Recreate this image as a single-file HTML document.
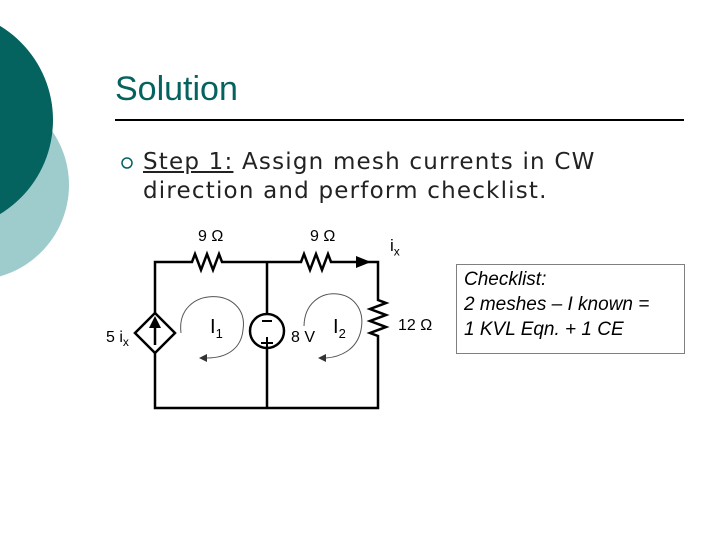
<!DOCTYPE html>
<html><head><style>
body{margin:0;width:720px;height:540px;background:#fff;overflow:hidden;position:relative;font-family:"Liberation Sans",sans-serif}
.t{position:absolute;white-space:nowrap}
</style></head><body>
<svg width="720" height="540" style="position:absolute;left:0;top:0">
<circle cx="-26" cy="185" r="95" fill="#9ecbcc"/>
<circle cx="-57" cy="120" r="110" fill="#04625f"/>
<line x1="115" y1="120" x2="684" y2="120" stroke="#000" stroke-width="2"/>
<circle cx="127" cy="163" r="5" fill="none" stroke="#04625f" stroke-width="1.5"/>
<g stroke="#000" stroke-width="2.5" fill="none">
<path d="M155 333 V262 H192 l3 -8 l6 16 l6 -16 l6 16 l6 -16 l3 8 H301 l3 -8 l6 16 l6 -16 l6 16 l6 -16 l3 8 H378 V300 l8 3 l-16 6 l16 6 l-16 6 l16 6 l-16 6 l8 3 V408 H155 Z"/>
<line x1="267" y1="262" x2="267" y2="408"/>
<polygon points="155,313 175,333 155,353 135,333" fill="#fff"/>
<circle cx="267" cy="331" r="17" fill="#fff"/>
</g>
<line x1="155" y1="345" x2="155" y2="325" stroke="#000" stroke-width="2.5"/>
<polygon points="149,328 161,328 155,316" fill="#000"/>
<polygon points="356,256 371,262 356,268" fill="#000"/>
<g stroke="#555" stroke-width="1" fill="none">
<path d="M181 333 C175 285 250 285 243 330 C241 350 225 358 207 358"/>
<path d="M304 326 C305 280 370 285 361 330 C357 350 340 357 326 358"/>
</g>
<polygon points="207,354 207,362 199,358" fill="#333"/>
<polygon points="326,354 326,362 318,358" fill="#333"/>
<line x1="262" y1="321" x2="272" y2="321" stroke="#000" stroke-width="2"/>
<line x1="261" y1="343" x2="273" y2="343" stroke="#000" stroke-width="2"/>
<line x1="267" y1="337" x2="267" y2="349" stroke="#000" stroke-width="2"/>
<rect x="456.5" y="264.5" width="228" height="89" fill="none" stroke="#000" stroke-dasharray="1,1"/>
</svg>
<div class="t" style="left:115px;top:70px;font-size:34px;color:#04625f">Solution</div>
<div class="t" style="left:143px;top:148px;font-size:23px;color:#222;line-height:29px;font-family:'DejaVu Sans',sans-serif;letter-spacing:1.2px"><u>Step 1:</u> Assign mesh currents in CW<br>direction and perform checklist.</div>
<div class="t" style="left:198px;top:228px;font-size:16px">9 Ω</div>
<div class="t" style="left:310px;top:228px;font-size:16px">9 Ω</div>
<div class="t" style="left:390px;top:236px;font-size:17px">i<sub style="font-size:12px">x</sub></div>
<div class="t" style="left:398px;top:317px;font-size:16px">12 Ω</div>
<div class="t" style="left:106px;top:329px;font-size:16px">5 i<sub style="font-size:12px">x</sub></div>
<div class="t" style="left:291px;top:329px;font-size:16px">8 V</div>
<div class="t" style="left:210px;top:316px;font-size:20px">I<sub style="font-size:13px">1</sub></div>
<div class="t" style="left:333px;top:316px;font-size:20px">I<sub style="font-size:13px">2</sub></div>
<div class="t" style="left:464px;top:267px;font-size:19px;font-style:italic;line-height:25px">Checklist:<br>2 meshes – I known =<br>1 KVL Eqn. + 1 CE</div>
</body></html>
